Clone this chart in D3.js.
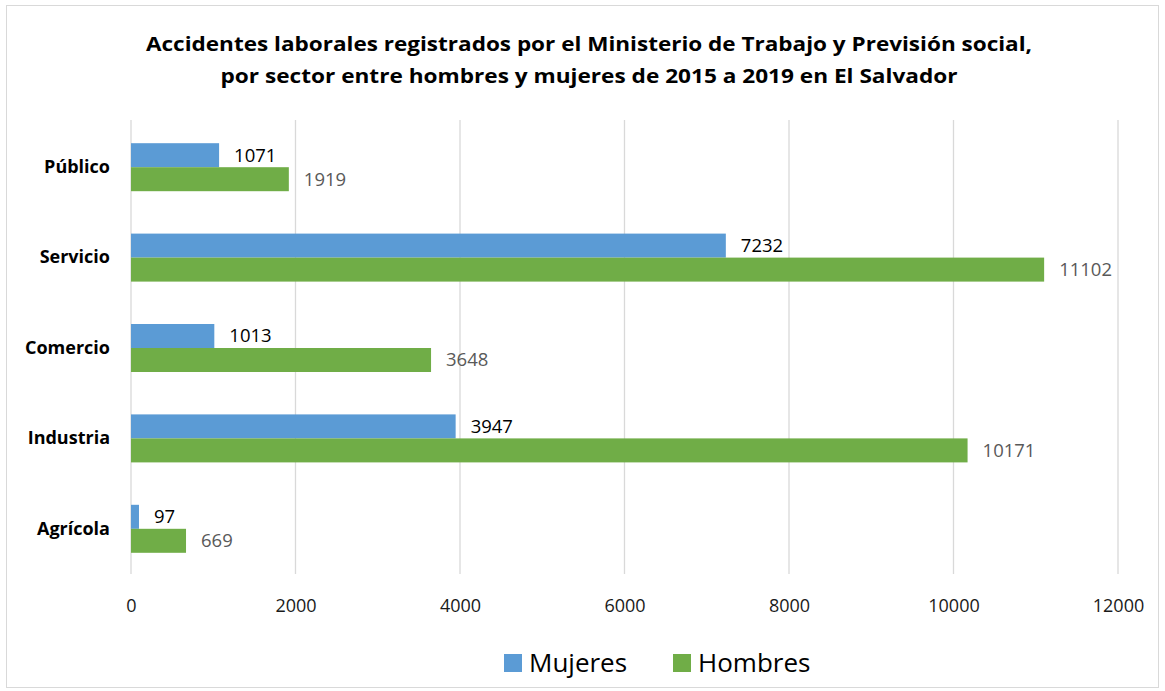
<!DOCTYPE html>
<html>
<head>
<meta charset="utf-8">
<script src="https://cdn.jsdelivr.net/npm/d3@7"></script>
<style>
  body { margin: 0; background: #fff; }
  svg { font-family: "Open Sans", "Noto Sans", sans-serif; }
</style>
</head>
<body>
<svg id="chart" width="1165" height="691"></svg>
<script>
// data
const categories = ["Público", "Servicio", "Comercio", "Industria", "Agrícola"];
const mujeres = [1071, 7232, 1013, 3947, 97];
const hombres = [1919, 11102, 3648, 10171, 669];
const xTicks = [0, 2000, 4000, 6000, 8000, 10000, 12000];
const seriesNames = ["Mujeres", "Hombres"];
const seriesColors = ["#5b9bd5", "#70ad47"];

const svg = d3.select("#chart");

// outer border
svg.append("rect")
  .attr("x", 6.5).attr("y", 5.5)
  .attr("width", 1152).attr("height", 682)
  .attr("fill", "#fff")
  .attr("stroke", "#d9d9d9");

// title
const title = svg.append("text")
  .attr("text-anchor", "middle")
  .attr("font-weight", "bold")
  .attr("font-size", 19)
  .attr("fill", "#000");
title.append("tspan").attr("x", 589).attr("y", 51)
  .attr("textLength", 886).attr("lengthAdjust", "spacingAndGlyphs")
  .text("Accidentes laborales registrados por el Ministerio de Trabajo y Previsión social,");
title.append("tspan").attr("x", 589).attr("y", 83)
  .attr("textLength", 737).attr("lengthAdjust", "spacingAndGlyphs")
  .text("por sector entre hombres y mujeres de 2015 a 2019 en El Salvador");

const x = d3.scaleLinear().domain([0, 12000]).range([131, 1118]);
const y = d3.scaleBand().domain(categories).range([122, 574]).paddingInner(0).paddingOuter(0);
const barH = 24;

// gridlines
svg.append("g")
  .selectAll("line")
  .data(xTicks)
  .join("line")
  .attr("x1", d => x(d)).attr("x2", d => x(d))
  .attr("y1", 120).attr("y2", 574)
  .attr("stroke", "#d9d9d9")
  .attr("stroke-width", 1.3);

// x axis labels
const xAxis = d3.axisBottom(x).tickValues(xTicks).tickSize(0).tickPadding(0).tickFormat(d3.format("d"));
const gx = svg.append("g").attr("transform", "translate(0,599)").call(xAxis);
gx.select(".domain").remove();
gx.selectAll("text")
  .attr("font-size", 18)
  .attr("font-family", "Open Sans, Noto Sans, sans-serif")
  .attr("fill", "#1a1a1a");

// y axis labels
const yAxis = d3.axisLeft(y).tickSize(0).tickPadding(0);
const gy = svg.append("g").attr("transform", "translate(110,0)").call(yAxis);
gy.select(".domain").remove();
gy.selectAll("text")
  .attr("font-size", 18)
  .attr("font-weight", "bold")
  .attr("font-family", "Open Sans, Noto Sans, sans-serif")
  .attr("fill", "#000");

// bars
const series = [mujeres, hombres];
series.forEach((vals, si) => {
  const g = svg.append("g");
  const yOff = y.bandwidth() / 2 - barH + si * barH;
  g.selectAll("rect")
    .data(vals)
    .join("rect")
    .attr("x", x(0))
    .attr("y", (d, i) => y(categories[i]) + yOff)
    .attr("width", d => x(d) - x(0))
    .attr("height", barH)
    .attr("fill", seriesColors[si]);
  g.selectAll("text")
    .data(vals)
    .join("text")
    .attr("x", d => x(d) + 15)
    .attr("y", (d, i) => y(categories[i]) + yOff + barH / 2)
    .attr("dy", "0.35em")
    .attr("font-size", 18.5)
    .attr("fill", si === 0 ? "#000" : "#595959")
    .text(d => d);
});

// legend
const legend = svg.append("g").attr("transform", "translate(504,663)");
const legendX = [0, 169];
seriesNames.forEach((name, i) => {
  const lg = legend.append("g").attr("transform", `translate(${legendX[i]},0)`);
  lg.append("rect").attr("x", 0).attr("y", -9).attr("width", 18).attr("height", 18)
    .attr("fill", seriesColors[i]);
  lg.append("text").attr("x", 25).attr("y", 0).attr("dy", "0.35em")
    .attr("font-size", 26).attr("fill", "#000").text(name);
});
</script>
</body>
</html>
